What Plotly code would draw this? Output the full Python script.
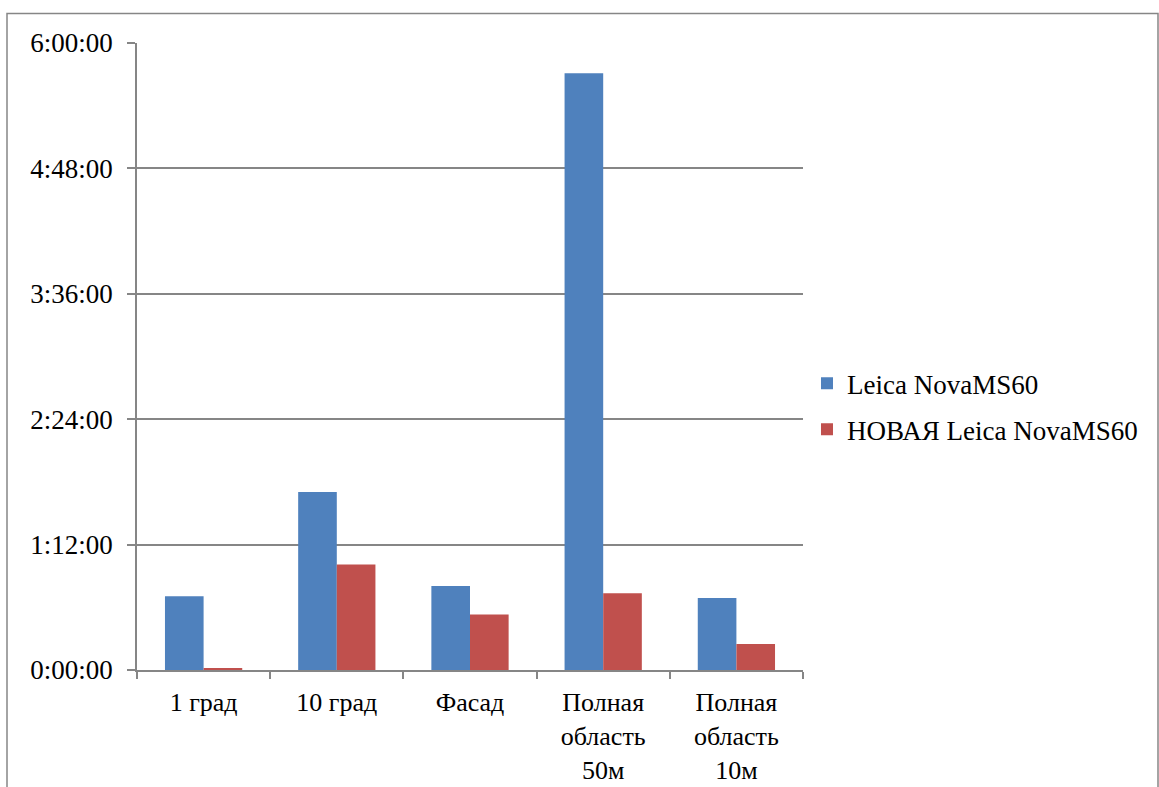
import plotly.graph_objects as go

categories = ["1 град", "10 град", "Фасад", "Полная<br>область<br>50м", "Полная<br>область<br>10м"]
series_names = ["Leica NovaMS60", "НОВАЯ Leica NovaMS60"]
# durations in minutes
leica_minutes = [42.4, 102.2, 48.3, 342.7, 41.3]
new_leica_minutes = [1.0, 60.6, 31.9, 44.0, 14.9]
tick_minutes = [0, 72, 144, 216, 288, 360]
tick_labels = ["0:00:00", "1:12:00", "2:24:00", "3:36:00", "4:48:00", "6:00:00"]

FONT = "Liberation Serif"
W, H = 1159, 787
L, R, T, B = 137, 1159 - 803, 42.5, 787 - 670
pw, ph = W - L - R, H - T - B

fig = go.Figure()
fig.add_trace(go.Bar(x=categories, y=leica_minutes, name=series_names[0],
                     marker=dict(color="#4f81bd", line=dict(width=0)), legendgroup="a"))
fig.add_trace(go.Bar(x=categories, y=new_leica_minutes, name=series_names[1],
                     marker=dict(color="#c0504d", line=dict(width=0)), legendgroup="b"))

gray = "#868686"
fig.update_layout(
    width=W, height=H,
    margin=dict(l=L, r=R, t=T, b=B, pad=0, autoexpand=False),
    paper_bgcolor="white", plot_bgcolor="white",
    barmode="group", bargap=0.42, bargroupgap=0,
    font=dict(family=FONT, size=26, color="black"),
    showlegend=True,
    legend=dict(x=1.006, y=0.42, xanchor="left", yanchor="middle",
                font=dict(family=FONT, size=27, color="black"),
                tracegroupgap=8, bgcolor="rgba(0,0,0,0)"),
    xaxis=dict(type="category", showgrid=False, showline=True, linecolor=gray, linewidth=1.5,
               ticks="outside", tickson="boundaries", ticklen=7, tickcolor=gray, tickwidth=1.5,
               ticklabelstandoff=8, automargin=False,
               tickfont=dict(family=FONT, size=26, color="black"), zeroline=False),
    yaxis=dict(range=[0, 360], tickvals=tick_minutes, ticktext=tick_labels,
               showgrid=True, gridcolor=gray, gridwidth=1.5,
               showline=True, linecolor=gray, linewidth=1.5,
               ticks="outside", ticklen=8, tickcolor=gray, tickwidth=1.5,
               ticklabelstandoff=9, automargin=False,
               tickfont=dict(family=FONT, size=27, color="black"), zeroline=False),
)

# outer chart frame
fx0 = (7 - L) / pw
fx1 = (1158 - L) / pw
fy1 = 1 + (T - 13) / ph
fy0 = -(H - (H - B) + 10) / ph
fig.add_shape(type="rect", xref="paper", yref="paper", x0=fx0, x1=fx1, y0=fy0, y1=fy1,
              line=dict(color=gray, width=1.5), fillcolor="rgba(0,0,0,0)", layer="below")

fig.write_html("out.html")
